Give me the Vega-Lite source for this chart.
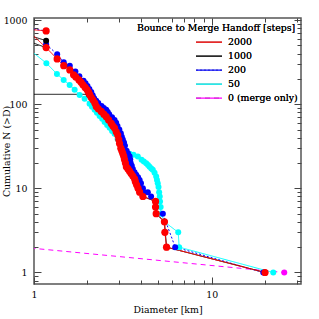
{
  "$schema": "https://vega.github.io/schema/vega-lite/v6.json",
  "width": 267,
  "height": 266,
  "autosize": {"type": "none"},
  "padding": {"left": 34, "top": 18, "right": 18, "bottom": 35},
  "background": "white",
  "config": {
    "view": {"stroke": "#555", "strokeWidth": 1.5},
    "font": "DejaVu Serif",
    "axis": {
      "labelFont": "DejaVu Serif",
      "labelFontSize": 9.4,
      "labelColor": "#000",
      "titleFont": "DejaVu Serif",
      "titleFontSize": 9.4,
      "titleFontWeight": "normal",
      "titleColor": "#000",
      "domain": false,
      "tickColor": "#444",
      "tickWidth": 1,
      "grid": false,
      "labelFlush": false,
      "labelOverlap": false
    },
    "legend": {
      "labelFont": "DejaVu Serif",
      "titleFont": "DejaVu Serif"
    }
  },
  "data": {
    "values": [
      {"h": "0 (merge only)", "run": "m1", "D": 0.85, "N": 2.0},
      {"h": "0 (merge only)", "run": "m1", "D": 25.6, "N": 1},

      {"h": "50", "run": "c1", "D": 0.85, "N": 530},
      {"h": "50", "run": "c1", "D": 1.174, "N": 307},
      {"h": "50", "run": "c1", "D": 1.346, "N": 229},
      {"h": "50", "run": "c1", "D": 1.469, "N": 194},
      {"h": "50", "run": "c1", "D": 1.587, "N": 169},
      {"h": "50", "run": "c1", "D": 1.693, "N": 148},
      {"h": "50", "run": "c1", "D": 1.806, "N": 129},
      {"h": "50", "run": "c1", "D": 1.927, "N": 116},
      {"h": "50", "run": "c1", "D": 2.055, "N": 101},
      {"h": "50", "run": "c1", "D": 2.12, "N": 93},
      {"h": "50", "run": "c1", "D": 2.193, "N": 86},
      {"h": "50", "run": "c1", "D": 2.26, "N": 79},
      {"h": "50", "run": "c1", "D": 2.34, "N": 72.6},
      {"h": "50", "run": "c1", "D": 2.42, "N": 67},
      {"h": "50", "run": "c1", "D": 2.496, "N": 61.6},
      {"h": "50", "run": "c1", "D": 2.58, "N": 56.5},
      {"h": "50", "run": "c1", "D": 2.663, "N": 52.3},
      {"h": "50", "run": "c1", "D": 2.75, "N": 48},
      {"h": "50", "run": "c1", "D": 2.84, "N": 44.4},
      {"h": "50", "run": "c1", "D": 2.953, "N": 38.7},
      {"h": "50", "run": "c1", "D": 3.07, "N": 34.7},
      {"h": "50", "run": "c1", "D": 3.16, "N": 31.1},
      {"h": "50", "run": "c1", "D": 3.23, "N": 29},
      {"h": "50", "run": "c1", "D": 3.3, "N": 27.4},
      {"h": "50", "run": "c1", "D": 3.45, "N": 25.7},
      {"h": "50", "run": "c1", "D": 3.63, "N": 25},
      {"h": "50", "run": "c1", "D": 3.84, "N": 23.9},
      {"h": "50", "run": "c1", "D": 4.03, "N": 21.8},
      {"h": "50", "run": "c1", "D": 4.15, "N": 20.8},
      {"h": "50", "run": "c1", "D": 4.28, "N": 19.9},
      {"h": "50", "run": "c1", "D": 4.38, "N": 19},
      {"h": "50", "run": "c1", "D": 4.47, "N": 18},
      {"h": "50", "run": "c1", "D": 4.57, "N": 17.2},
      {"h": "50", "run": "c1", "D": 4.66, "N": 16.6},
      {"h": "50", "run": "c1", "D": 4.77, "N": 15.3},
      {"h": "50", "run": "c1", "D": 4.87, "N": 13.8},
      {"h": "50", "run": "c1", "D": 4.92, "N": 12.6},
      {"h": "50", "run": "c1", "D": 4.97, "N": 11.5},
      {"h": "50", "run": "c1", "D": 5.02, "N": 10.4},
      {"h": "50", "run": "c1", "D": 5.06, "N": 9},
      {"h": "50", "run": "c1", "D": 5.1, "N": 8},
      {"h": "50", "run": "c1", "D": 5.12, "N": 7},
      {"h": "50", "run": "c1", "D": 5.16, "N": 6},
      {"h": "50", "run": "c1", "D": 5.2, "N": 5},
      {"h": "50", "run": "c1", "D": 5.42, "N": 4},
      {"h": "50", "run": "c1", "D": 6.48, "N": 3},
      {"h": "50", "run": "c1", "D": 6.56, "N": 2},
      {"h": "50", "run": "c1", "D": 22.2, "N": 1},

      {"h": "200", "run": "b1", "D": 0.85, "N": 820},
      {"h": "200", "run": "b1", "D": 1.17, "N": 742},
      {"h": "200", "run": "b2", "D": 1.17, "N": 516},
      {"h": "200", "run": "b2", "D": 1.35, "N": 392},
      {"h": "200", "run": "b2", "D": 1.47, "N": 315},
      {"h": "200", "run": "b2", "D": 1.59, "N": 287},
      {"h": "200", "run": "b2", "D": 1.71, "N": 244},
      {"h": "200", "run": "b2", "D": 1.8, "N": 215},
      {"h": "200", "run": "b2", "D": 1.9, "N": 190},
      {"h": "200", "run": "b2", "D": 1.95, "N": 177},
      {"h": "200", "run": "b2", "D": 2.0, "N": 165},
      {"h": "200", "run": "b2", "D": 2.05, "N": 152},
      {"h": "200", "run": "b2", "D": 2.1, "N": 140},
      {"h": "200", "run": "b2", "D": 2.14, "N": 128},
      {"h": "200", "run": "b2", "D": 2.18, "N": 118},
      {"h": "200", "run": "b2", "D": 2.24, "N": 110},
      {"h": "200", "run": "b2", "D": 2.3, "N": 103},
      {"h": "200", "run": "b2", "D": 2.4, "N": 95},
      {"h": "200", "run": "b2", "D": 2.47, "N": 90},
      {"h": "200", "run": "b2", "D": 2.55, "N": 86},
      {"h": "200", "run": "b2", "D": 2.6, "N": 81},
      {"h": "200", "run": "b2", "D": 2.65, "N": 76},
      {"h": "200", "run": "b2", "D": 2.75, "N": 70},
      {"h": "200", "run": "b2", "D": 2.84, "N": 65},
      {"h": "200", "run": "b2", "D": 2.9, "N": 60},
      {"h": "200", "run": "b2", "D": 2.95, "N": 55},
      {"h": "200", "run": "b2", "D": 3.02, "N": 50},
      {"h": "200", "run": "b2", "D": 3.08, "N": 45},
      {"h": "200", "run": "b2", "D": 3.12, "N": 41},
      {"h": "200", "run": "b2", "D": 3.16, "N": 38},
      {"h": "200", "run": "b2", "D": 3.21, "N": 35},
      {"h": "200", "run": "b2", "D": 3.25, "N": 32},
      {"h": "200", "run": "b2", "D": 3.32, "N": 28},
      {"h": "200", "run": "b2", "D": 3.38, "N": 26},
      {"h": "200", "run": "b2", "D": 3.45, "N": 24},
      {"h": "200", "run": "b2", "D": 3.48, "N": 22},
      {"h": "200", "run": "b2", "D": 3.5, "N": 20},
      {"h": "200", "run": "b2", "D": 3.55, "N": 18.5},
      {"h": "200", "run": "b2", "D": 3.6, "N": 17},
      {"h": "200", "run": "b2", "D": 3.68, "N": 15.5},
      {"h": "200", "run": "b2", "D": 3.76, "N": 14.5},
      {"h": "200", "run": "b2", "D": 3.85, "N": 13.5},
      {"h": "200", "run": "b2", "D": 3.93, "N": 12.6},
      {"h": "200", "run": "b2", "D": 4.0, "N": 11.5},
      {"h": "200", "run": "b2", "D": 4.1, "N": 10},
      {"h": "200", "run": "b2", "D": 4.18, "N": 9},
      {"h": "200", "run": "b2", "D": 4.37, "N": 9},
      {"h": "200", "run": "b2", "D": 4.56, "N": 8},
      {"h": "200", "run": "b2", "D": 5.31, "N": 5},
      {"h": "200", "run": "b2", "D": 6.23, "N": 2},
      {"h": "200", "run": "b2", "D": 19.5, "N": 1},

      {"h": "1000", "run": "k1", "D": 0.85, "N": 700},
      {"h": "1000", "run": "k1", "D": 1.17, "N": 569},
      {"h": "1000", "run": "k2", "D": 0.85, "N": 600},
      {"h": "1000", "run": "k2", "D": 1.17, "N": 470},
      {"h": "1000", "run": "k3", "D": 0.85, "N": 131},
      {"h": "1000", "run": "k3", "D": 2.03, "N": 131},
      {"h": "1000", "run": "k3", "D": 2.1, "N": 120},
      {"h": "1000", "run": "k3", "D": 2.2, "N": 103},
      {"h": "1000", "run": "k3", "D": 2.39, "N": 82},
      {"h": "1000", "run": "k3", "D": 2.63, "N": 65},
      {"h": "1000", "run": "k3", "D": 2.84, "N": 52},
      {"h": "1000", "run": "k3", "D": 3.0, "N": 38},
      {"h": "1000", "run": "k3", "D": 3.16, "N": 26},
      {"h": "1000", "run": "k3", "D": 3.31, "N": 18},
      {"h": "1000", "run": "k3", "D": 3.52, "N": 15},
      {"h": "1000", "run": "k3", "D": 3.78, "N": 11},
      {"h": "1000", "run": "k3", "D": 4.1, "N": 8},
      {"h": "1000", "run": "k3", "D": 4.83, "N": 7},
      {"h": "1000", "run": "k3", "D": 4.87, "N": 5},
      {"h": "1000", "run": "k3", "D": 5.42, "N": 4},
      {"h": "1000", "run": "k3", "D": 5.57, "N": 2},
      {"h": "1000", "run": "k3", "D": 19.95, "N": 1},

      {"h": "2000", "run": "r1", "D": 0.85, "N": 790},
      {"h": "2000", "run": "r1", "D": 1.17, "N": 742},
      {"h": "2000", "run": "r2", "D": 0.85, "N": 880},
      {"h": "2000", "run": "r2", "D": 1.17, "N": 470},
      {"h": "2000", "run": "r2", "D": 1.35, "N": 345},
      {"h": "2000", "run": "r2", "D": 1.47, "N": 287},
      {"h": "2000", "run": "r2", "D": 1.59, "N": 255},
      {"h": "2000", "run": "r2", "D": 1.67, "N": 223},
      {"h": "2000", "run": "r2", "D": 1.72, "N": 210},
      {"h": "2000", "run": "r2", "D": 1.79, "N": 194},
      {"h": "2000", "run": "r2", "D": 1.84, "N": 182},
      {"h": "2000", "run": "r2", "D": 1.885, "N": 170},
      {"h": "2000", "run": "r2", "D": 1.94, "N": 158},
      {"h": "2000", "run": "r2", "D": 1.99, "N": 148},
      {"h": "2000", "run": "r2", "D": 2.03, "N": 138},
      {"h": "2000", "run": "r2", "D": 2.06, "N": 129},
      {"h": "2000", "run": "r2", "D": 2.1, "N": 120},
      {"h": "2000", "run": "r2", "D": 2.15, "N": 112},
      {"h": "2000", "run": "r2", "D": 2.2, "N": 103},
      {"h": "2000", "run": "r2", "D": 2.24, "N": 94},
      {"h": "2000", "run": "r2", "D": 2.3, "N": 88},
      {"h": "2000", "run": "r2", "D": 2.39, "N": 82},
      {"h": "2000", "run": "r2", "D": 2.47, "N": 76},
      {"h": "2000", "run": "r2", "D": 2.55, "N": 71},
      {"h": "2000", "run": "r2", "D": 2.63, "N": 65},
      {"h": "2000", "run": "r2", "D": 2.72, "N": 59},
      {"h": "2000", "run": "r2", "D": 2.78, "N": 55},
      {"h": "2000", "run": "r2", "D": 2.84, "N": 52},
      {"h": "2000", "run": "r2", "D": 2.9, "N": 47},
      {"h": "2000", "run": "r2", "D": 2.96, "N": 43},
      {"h": "2000", "run": "r2", "D": 3.0, "N": 38},
      {"h": "2000", "run": "r2", "D": 3.03, "N": 34},
      {"h": "2000", "run": "r2", "D": 3.08, "N": 30},
      {"h": "2000", "run": "r2", "D": 3.12, "N": 28},
      {"h": "2000", "run": "r2", "D": 3.16, "N": 26},
      {"h": "2000", "run": "r2", "D": 3.2, "N": 24},
      {"h": "2000", "run": "r2", "D": 3.23, "N": 22},
      {"h": "2000", "run": "r2", "D": 3.27, "N": 20},
      {"h": "2000", "run": "r2", "D": 3.31, "N": 18},
      {"h": "2000", "run": "r2", "D": 3.38, "N": 17},
      {"h": "2000", "run": "r2", "D": 3.45, "N": 16},
      {"h": "2000", "run": "r2", "D": 3.52, "N": 15},
      {"h": "2000", "run": "r2", "D": 3.6, "N": 14},
      {"h": "2000", "run": "r2", "D": 3.68, "N": 13},
      {"h": "2000", "run": "r2", "D": 3.72, "N": 12},
      {"h": "2000", "run": "r2", "D": 3.78, "N": 11},
      {"h": "2000", "run": "r2", "D": 3.85, "N": 10},
      {"h": "2000", "run": "r2", "D": 3.93, "N": 9},
      {"h": "2000", "run": "r2", "D": 4.1, "N": 8},
      {"h": "2000", "run": "r2", "D": 4.83, "N": 7},
      {"h": "2000", "run": "r2", "D": 4.83, "N": 6},
      {"h": "2000", "run": "r2", "D": 4.87, "N": 5},
      {"h": "2000", "run": "r2", "D": 5.42, "N": 4},
      {"h": "2000", "run": "r2", "D": 5.45, "N": 3},
      {"h": "2000", "run": "r2", "D": 5.57, "N": 2},
      {"h": "2000", "run": "r2", "D": 19.95, "N": 1}
    ]
  },
  "layer": [
    {
      "mark": {"type": "line", "clip": true, "strokeWidth": 1},
      "encoding": {
        "x": {
          "field": "D", "type": "quantitative",
          "scale": {"type": "log", "domain": [1, 31.8], "nice": false},
          "axis": {
            "orient": "bottom",
            "offset": -7,
            "tickSize": 7,
            "values": [1, 10],
            "format": "d",
            "labelPadding": 6,
            "title": "Diameter [km]",
            "titlePadding": 7
          }
        },
        "y": {
          "field": "N", "type": "quantitative",
          "scale": {"type": "log", "domain": [0.73, 1057], "nice": false},
          "axis": {
            "orient": "left",
            "offset": -7,
            "tickSize": 7,
            "values": [1, 10, 100, 1000],
            "format": "d",
            "labelPadding": 7,
            "title": "Cumulative N (>D)",
            "titleX": -30
          }
        },
        "color": {
          "field": "h", "type": "nominal",
          "scale": {
            "domain": ["2000", "1000", "200", "50", "0 (merge only)"],
            "range": ["#ff0000", "#000000", "#0000ff", "#00ffff", "#ff00ff"]
          },
          "legend": {
            "title": "Bounce to Merge Handoff [steps]",
            "orient": "none",
            "legendX": 103,
            "legendY": 6,
            "padding": 0,
            "titleFontSize": 9.4,
            "titleFontWeight": "normal",
            "titleColor": "#000",
            "titlePadding": 2,
            "labelFontSize": 9.4,
            "labelColor": "#000",
            "symbolType": "stroke",
            "symbolSize": 676,
            "symbolStrokeWidth": 1.2,
            "symbolOffset": 58,
            "labelOffset": 5,
            "clipHeight": 13.3,
            "rowPadding": 0
          }
        },
        "strokeDash": {
          "field": "h", "type": "nominal",
          "scale": {
            "domain": ["2000", "1000", "200", "50", "0 (merge only)"],
            "range": [[1, 0], [1, 0], [2, 2], [1, 0], [5, 4]]
          },
          "legend": {
            "title": "Bounce to Merge Handoff [steps]",
            "orient": "none",
            "legendX": 103,
            "legendY": 6,
            "padding": 0,
            "titleFontSize": 9.4,
            "titleFontWeight": "normal",
            "titleColor": "#000",
            "titlePadding": 2,
            "labelFontSize": 9.4,
            "labelColor": "#000",
            "symbolType": "stroke",
            "symbolSize": 676,
            "symbolStrokeWidth": 1.2,
            "symbolOffset": 58,
            "labelOffset": 5,
            "clipHeight": 13.3,
            "rowPadding": 0
          }
        },
        "detail": {"field": "run", "type": "nominal"},
        "order": {"value": null}
      }
    },
    {
      "transform": [{"filter": "datum.h == '50' || datum.h == '0 (merge only)'"}],
      "mark": {"type": "point", "filled": true, "shape": "circle", "opacity": 1, "clip": true, "size": 36},
      "encoding": {
        "x": {
          "field": "D", "type": "quantitative",
          "scale": {"type": "log", "domain": [1, 31.8], "nice": false},
          "axis": {"orient": "top", "offset": -7, "tickSize": 7, "values": [1, 10], "labels": false, "title": null}
        },
        "y": {
          "field": "N", "type": "quantitative",
          "scale": {"type": "log", "domain": [0.73, 1057], "nice": false},
          "axis": {"orient": "right", "offset": -7, "tickSize": 7, "values": [1, 10, 100, 1000], "labels": false, "title": null}
        },
        "color": {
          "field": "h", "type": "nominal", "legend": null,
          "scale": {
            "domain": ["2000", "1000", "200", "50", "0 (merge only)"],
            "range": ["#ff0000", "#000000", "#0000ff", "#00ffff", "#ff00ff"]
          }
        }
      }
    },
    {
      "transform": [{"filter": "datum.h == '200' || datum.h == '1000'"}],
      "mark": {"type": "point", "filled": true, "shape": "circle", "opacity": 1, "clip": true, "size": 36},
      "encoding": {
        "x": {
          "field": "D", "type": "quantitative",
          "scale": {"type": "log", "domain": [1, 31.8], "nice": false},
          "axis": {"orient": "bottom", "offset": -4, "tickSize": 4, "values": [2, 3, 4, 5, 6, 7, 8, 9, 20, 30], "labels": false, "title": null}
        },
        "y": {
          "field": "N", "type": "quantitative",
          "scale": {"type": "log", "domain": [0.73, 1057], "nice": false},
          "axis": {"orient": "left", "offset": -4, "tickSize": 4, "values": [0.8, 0.9, 2, 3, 4, 5, 6, 7, 8, 9, 20, 30, 40, 50, 60, 70, 80, 90, 200, 300, 400, 500, 600, 700, 800, 900], "labels": false, "title": null}
        },
        "color": {
          "field": "h", "type": "nominal", "legend": null,
          "scale": {
            "domain": ["2000", "1000", "200", "50", "0 (merge only)"],
            "range": ["#ff0000", "#000000", "#0000ff", "#00ffff", "#ff00ff"]
          }
        }
      }
    },
    {
      "transform": [{"filter": "datum.h == '2000'"}],
      "mark": {"type": "point", "filled": true, "shape": "circle", "opacity": 1, "clip": true, "size": 52},
      "encoding": {
        "x": {
          "field": "D", "type": "quantitative",
          "scale": {"type": "log", "domain": [1, 31.8], "nice": false},
          "axis": {"orient": "top", "offset": -4, "tickSize": 4, "values": [2, 3, 4, 5, 6, 7, 8, 9, 20, 30], "labels": false, "title": null}
        },
        "y": {
          "field": "N", "type": "quantitative",
          "scale": {"type": "log", "domain": [0.73, 1057], "nice": false},
          "axis": {"orient": "right", "offset": -4, "tickSize": 4, "values": [0.8, 0.9, 2, 3, 4, 5, 6, 7, 8, 9, 20, 30, 40, 50, 60, 70, 80, 90, 200, 300, 400, 500, 600, 700, 800, 900], "labels": false, "title": null}
        },
        "color": {
          "field": "h", "type": "nominal", "legend": null,
          "scale": {
            "domain": ["2000", "1000", "200", "50", "0 (merge only)"],
            "range": ["#ff0000", "#000000", "#0000ff", "#00ffff", "#ff00ff"]
          }
        }
      }
    }
  ],
  "resolve": {
    "axis": {"x": "independent", "y": "independent"},
    "legend": {"color": "independent"}
  }
}
